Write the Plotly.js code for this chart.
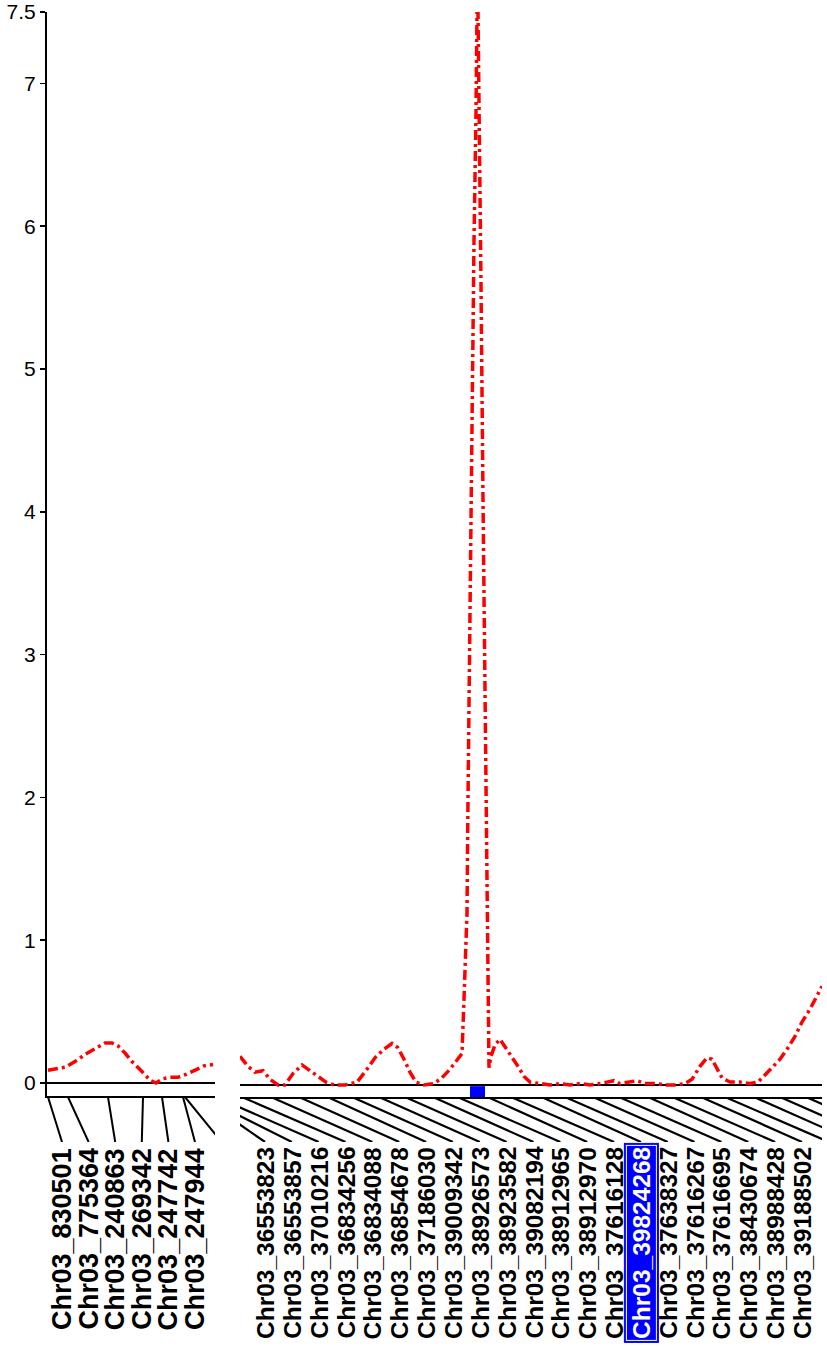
<!DOCTYPE html>
<html>
<head>
<meta charset="utf-8">
<script src="https://cdn.plot.ly/plotly-3.0.1.min.js"></script>
<style>
  html, body { margin: 0; padding: 0; background: #fff; }
  #chart { width: 827px; height: 1347px; }
</style>
</head>
<body>
<div id="chart"></div>
<script>
// LOD profile, left linkage group (map units)
const leftPos = [0.2, 1.6, 3.6, 5.6, 7.6, 9.6, 11.6, 13, 14.2, 15.6, 17, 19, 20.6, 21.8, 23.2, 24.6, 26.2, 27.8, 29.6, 31.4, 33.2];
const leftLod = [0.09, 0.10, 0.11, 0.15, 0.20, 0.24, 0.28, 0.28, 0.26, 0.21, 0.15, 0.08, 0.02, 0.00, 0.03, 0.04, 0.04, 0.06, 0.09, 0.12, 0.13];

// LOD profile, right linkage group
const rightPos = [0, 1.6, 3, 4.6, 6, 7.6, 9, 10.6, 12.4, 14, 15.6, 17.2, 18.8, 21, 23.4, 25.2, 27, 28.8, 30.4, 31.6,
  32.8, 34, 35.2, 36.8, 38.8, 40.4, 42, 43.4, 44.4, 44.8, 45.4, 45.6, 46, 46.4, 46.8, 47.2, 47.4, 47.6, 47.8, 48.2,
  48.6, 49, 49.4, 49.6, 49.8, 50.2, 51, 52, 53.2, 54.4, 55.6, 56.8, 58, 60, 62, 64, 66, 68, 70, 72,
  73.4, 74.8, 76, 78, 79.4, 81, 83, 85, 87, 89, 90.4, 92, 93.4, 94.4, 95.4, 96.4, 98, 100, 102, 103.6,
  105, 106.4, 108, 109.6, 111, 112.4, 114, 115.2, 116.4];
const rightLod = [0.20, 0.13, 0.09, 0.10, 0.04, 0.00, 0.00, 0.08, 0.14, 0.10, 0.06, 0.02, 0.00, 0.00, 0.02, 0.10, 0.19, 0.25, 0.29, 0.26,
  0.18, 0.09, 0.02, 0.00, 0.01, 0.05, 0.11, 0.17, 0.22, 0.6, 1.2, 2.0, 3.5, 4.9, 5.9, 6.8, 7.5, 7.5, 7.0, 5.6,
  4.1, 2.7, 1.4, 0.5, 0.12, 0.20, 0.28, 0.32, 0.26, 0.19, 0.13, 0.06, 0.02, 0.01, 0.00, 0.01, 0.00, 0.01, 0.00, 0.01,
  0.02, 0.03, 0.01, 0.02, 0.03, 0.01, 0.01, 0.00, 0.00, 0.01, 0.04, 0.13, 0.19, 0.18, 0.12, 0.05, 0.02, 0.02, 0.01, 0.02,
  0.07, 0.12, 0.18, 0.26, 0.34, 0.44, 0.53, 0.61, 0.69];

// markers
const leftLabels = ["Chr03_830501", "Chr03_775364", "Chr03_240863", "Chr03_269342", "Chr03_247742", "Chr03_247944"];
const leftMarkerPos = [0.2, 4.2, 12.2, 19.2, 23, 27.2, 27.6];

const rightLabels = ["Chr03_36553823", "Chr03_36553857", "Chr03_37010216", "Chr03_36834256", "Chr03_36834088",
  "Chr03_36854678", "Chr03_37186030", "Chr03_39009342", "Chr03_38926573", "Chr03_38923582", "Chr03_39082194",
  "Chr03_38912965", "Chr03_38912970", "Chr03_37616128", "Chr03_39824268", "Chr03_37638327", "Chr03_37616267",
  "Chr03_37616695", "Chr03_38430674", "Chr03_38988428", "Chr03_39188502"];
const rightMarkerPos = [-8, -7.6, -4.8, 0.4, 6.2, 11.8, 17.5, 22.4, 27.8, 33.0, 38.6, 43.5, 49.5, 54.2, 60.3,
  65.0, 70.6, 75.8, 81.6, 86.5, 92.2, 97.0, 102.8, 108.0, 113.2];
const highlighted = "Chr03_39824268";
const peakInterval = [46, 49];

const yTicks = [0, 1, 2, 3, 4, 5, 6, 7, 7.5];

// label slots along each group
const leftSlot = (i) => 3 + 5.32 * i;
const rightSlot = (i) => 5 + 5.37 * i;

function connectors(markers, slot) {
  const x = [], y = [];
  markers.forEach((m, i) => {
    x.push(m, slot(i), null);
    y.push(1, 0, null);
  });
  return { x, y };
}

const lodLine = { color: "#ff0000", width: 3.5, dash: "10px,4px,3px,4px" };
const lc = connectors(leftMarkerPos, leftSlot);
const rc = connectors(rightMarkerPos, rightSlot);

const data = [
  { x: leftPos, y: leftLod, xaxis: "x", yaxis: "y", mode: "lines", line: lodLine, hoverinfo: "none" },
  { x: rightPos, y: rightLod, xaxis: "x2", yaxis: "y2", mode: "lines", line: lodLine, hoverinfo: "none" },
  { x: lc.x, y: lc.y, xaxis: "x", yaxis: "y3", mode: "lines", line: { color: "#000", width: 2 }, hoverinfo: "none" },
  { x: rc.x, y: rc.y, xaxis: "x2", yaxis: "y3", mode: "lines", line: { color: "#000", width: 2.2 }, hoverinfo: "none" },
];

const labelFont = { family: "Liberation Sans, Arial, sans-serif", size: 24.5, color: "#000", weight: "bold" };

const annotations = [];
leftLabels.forEach((t, i) => {
  annotations.push({
    x: leftSlot(i), y: 0, xref: "x", yref: "y3", text: t, textangle: -90,
    showarrow: false, xanchor: "center", yanchor: "top", yshift: -4,
    font: Object.assign({}, labelFont, { size: 27 }),
  });
});
rightLabels.forEach((t, i) => {
  const hi = t === highlighted;
  if (hi) {
    annotations.push({
      x: rightSlot(i), y: 0, xref: "x2", yref: "y3", text: t, textangle: -90,
      showarrow: false, xanchor: "center", yanchor: "top", yshift: -1,
      font: Object.assign({}, labelFont, { color: "#0000ff" }),
      bgcolor: "#0000ff", bordercolor: "#0000ff", borderwidth: 1, borderpad: 3,
    });
  }
  annotations.push({
    x: rightSlot(i), y: 0, xref: "x2", yref: "y3", text: t, textangle: -90,
    showarrow: false, xanchor: "center", yanchor: "top", yshift: hi ? -3 : -4,
    font: Object.assign({}, labelFont, { color: hi ? "#fff" : "#000" }),
    bgcolor: hi ? "#0000ff" : "rgba(0,0,0,0)",
    bordercolor: hi ? "#fff" : "rgba(0,0,0,0)", borderwidth: hi ? 1 : 0, borderpad: 1,
  });
});

const H = 1347, W = 827;
const layout = {
  width: W,
  height: H,
  margin: { l: 0, r: 0, t: 0, b: 0 },
  paper_bgcolor: "#fff",
  plot_bgcolor: "rgba(0,0,0,0)",
  showlegend: false,
  xaxis: {
    domain: [47 / W, 215 / W], range: [0, 33.6], anchor: "y",
    showline: true, linecolor: "#000", linewidth: 2, showgrid: false, zeroline: false,
    showticklabels: false, ticks: "",
  },
  xaxis2: {
    domain: [240 / W, 822 / W], range: [0, 116.4], anchor: "y2",
    showline: true, linecolor: "#000", linewidth: 2, showgrid: false, zeroline: false,
    showticklabels: false, ticks: "",
  },
  yaxis: {
    domain: [1 - 1096 / H, 1 - 12 / H], range: [-0.091, 7.5], anchor: "x",
    showline: true, linecolor: "#000", linewidth: 2, showgrid: false,
    zeroline: true, zerolinecolor: "#000", zerolinewidth: 2,
    tickmode: "array", tickvals: yTicks, ticktext: yTicks.map(String),
    ticks: "outside", ticklen: 5, tickwidth: 1.5, tickcolor: "#000",
    tickfont: { family: "Liberation Sans, Arial, sans-serif", size: 21, color: "#000" },
  },
  yaxis2: {
    domain: [1 - 1097 / H, 1 - 12 / H], range: [-0.084, 7.5], anchor: "x2",
    showline: false, showgrid: false, showticklabels: false, ticks: "",
    zeroline: true, zerolinecolor: "#000", zerolinewidth: 2,
  },
  yaxis3: {
    domain: [1 - 1142 / H, 1 - 1097 / H], range: [0, 1], anchor: "x2",
    visible: false,
  },
  shapes: [
    {
      type: "rect", xref: "x2", yref: "y2",
      x0: peakInterval[0], x1: peakInterval[1], y0: -0.084, y1: -0.008,
      fillcolor: "#0000ff", line: { width: 0 },
    },
  ],
  annotations,
};

Plotly.newPlot("chart", data, layout, { displayModeBar: false, staticPlot: true });
</script>
</body>
</html>
